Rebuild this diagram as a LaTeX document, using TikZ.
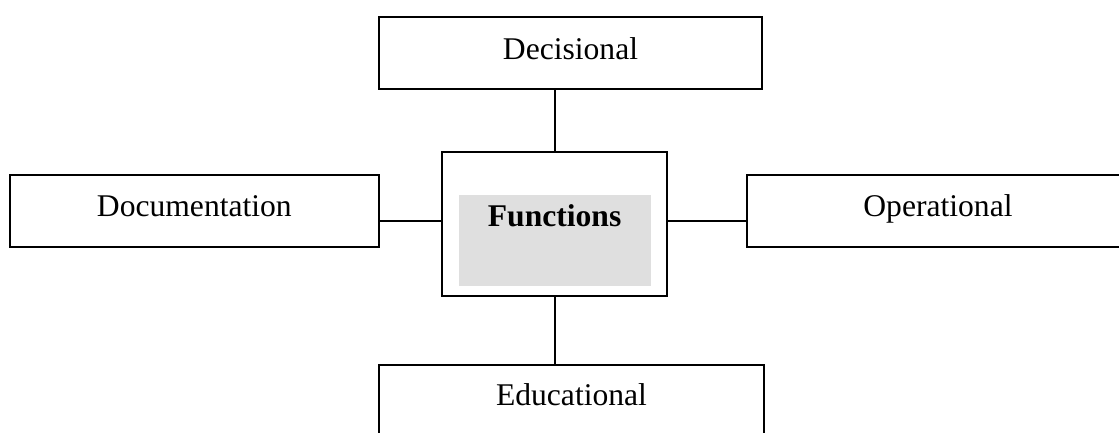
\documentclass[tikz,border=0pt]{standalone}
\usepackage{fontspec}
\setmainfont{Liberation Serif}
\begin{document}
\begin{tikzpicture}[x=1pt,y=-1pt,
  box/.style={draw=black,line width=2pt,rectangle,inner sep=0pt,outer sep=0pt},
  shade/.style={fill=shadegray,draw=none,rectangle,inner sep=0pt,outer sep=0pt},
  lbl/.style={anchor=base,inner sep=0pt,font=\fontsize{31.6}{38}\selectfont},
  link/.style={draw=black,line width=1.8pt}]
\definecolor{shadegray}{RGB}{223,223,223}
\useasboundingbox (0,0) rectangle (1119,432);
\clip (0,0) rectangle (1119,432);
% outer boxes
\node[box,minimum width=383pt,minimum height=72.3pt] (dec) at (570.5,52.85) {};
\node[box,minimum width=368.7pt,minimum height=72pt] (doc) at (194.35,210.5) {};
\node[box,minimum width=382.6pt,minimum height=72pt] (ope) at (938,210.5) {};
\node[box,minimum width=385pt,minimum height=72pt] (edu) at (571.5,401) {};
% central box with its shaded panel
\node[box,minimum width=224.7pt,minimum height=143.7pt] (fun) at (554.65,224.15) {};
\node[shade,minimum width=192pt,minimum height=90.7pt] (panel) at (555,240.35) {};
% labels
\node[lbl] (tdec) at (570.5,59.3) {Decisional};
\node[lbl] (tdoc) at (194.35,216) {Documentation};
\node[lbl] (tope) at (938,216) {Operational};
\node[lbl] (tedu) at (571.5,405.7) {Educational};
\node[lbl,font=\fontsize{31.6}{38}\selectfont\bfseries] (tfun) at (554.6,226) {Functions};
% connectors
\coordinate (lv) at ([yshift=3pt]fun.west);
\coordinate (rv) at ([yshift=3pt]fun.east);
\draw[link] (fun.north |- dec.south) -- (fun.north);
\draw[link] (fun.south) -- (fun.south |- edu.north);
\draw[link] (lv) -- (lv -| doc.east);
\draw[link] (rv) -- (rv -| ope.west);
\end{tikzpicture}
\end{document}
